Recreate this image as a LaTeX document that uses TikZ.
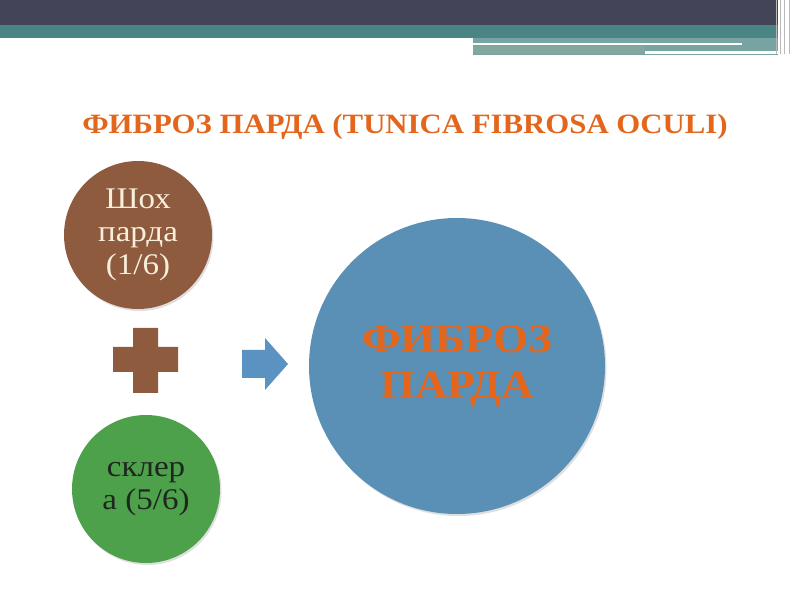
\documentclass[tikz,border=0pt]{standalone}
\usepackage{fontspec}
\setmainfont[FakeStretch=1.1]{Liberation Serif}
\usetikzlibrary{shadows}
\definecolor{barDark}{HTML}{444458}
\definecolor{barTeal}{HTML}{4A8585}
\definecolor{barGrey}{HTML}{82A79F}
\definecolor{titleOrange}{HTML}{E3661C}
\definecolor{brownFill}{HTML}{8E5B3E}
\definecolor{greenFill}{HTML}{4DA14B}
\definecolor{blueFill}{HTML}{5B90B6}
\definecolor{arrowBlue}{HTML}{5A93C2}
\definecolor{creamText}{HTML}{F7EEDC}
\definecolor{darkText}{HTML}{1E261E}
\tikzset{
  partcircle/.style={circle, minimum size=148pt, inner sep=0pt, align=center,
    font=\fontsize{30}{33}\selectfont,
    drop shadow={opacity=0.25, shadow xshift=1.5pt, shadow yshift=-2pt}},
  wholecircle/.style={partcircle, minimum size=296pt, text=titleOrange,
    font=\bfseries\fontsize{41}{46}\selectfont},
}
\begin{document}
\begin{tikzpicture}[x=1pt,y=1pt]
                    \useasboundingbox (0,0) rectangle (800,600);
                    % header bar
                    \fill[barDark] (0,600) rectangle (778,575);
                    \fill[barTeal] (0,575) rectangle (778,562);
                    \fill[barTeal!75!white] (473,562) rectangle (778,545);
                    \fill[white] (473,557) rectangle (742,555);
                    \fill[barGrey] (473,554) rectangle (645,546);
                    \fill[white] (645,549) rectangle (785,546);
                    \foreach \x in {776,780,784,789}
                        \draw[gray!55, line width=1pt] (\x,600) -- (\x,546);
                    % title
                    \node[text=titleOrange, font=\bfseries\fontsize{28}{33}\selectfont] (title) at (405,473)
                        {ФИБРОЗ ПАРДА (TUNICA FIBROSA OCULI)};
                    % circles
                    \node[partcircle, fill=brownFill, text=creamText] (shox) at (138,365)
                        {Шох\\парда\\(1/6)};
                    \node[partcircle, fill=greenFill, text=darkText] (sklera) at (146,111)
                        {склер\\а (5/6)};
                    \node[wholecircle, fill=blueFill] (fibroz) at (457,234)
                        {ФИБРОЗ\\ПАРДА};
                    % plus sign
                    \fill[brownFill] (133,272) -- (158,272) -- (158,253) -- (178,253) -- (178,228)
                        -- (158,228) -- (158,207) -- (133,207) -- (133,228) -- (113,228)
                        -- (113,253) -- (133,253) -- cycle;
                    % block arrow
                    \fill[arrowBlue] (242,250) -- (265,250) -- (265,262) -- (288,236)
                        -- (265,210) -- (265,222) -- (242,222) -- cycle;
                \end{tikzpicture}
\end{document}
